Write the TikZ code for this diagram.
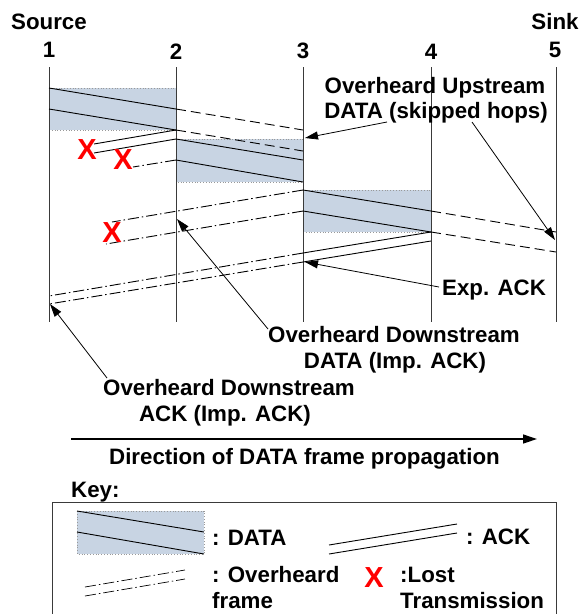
\documentclass[tikz,border=0pt]{standalone}
\usepackage{fontspec}
\setmainfont{Liberation Sans}
\usetikzlibrary{arrows.meta}
\definecolor{boxblue}{HTML}{C8D4E3}
\definecolor{nodeline}{HTML}{3A3A3A}
\begin{document}
\begin{tikzpicture}[x=1pt,y=-1pt,
  every node/.style={inner sep=0pt, font=\fontsize{22.3}{27}\selectfont\bfseries},
  lbl/.style={anchor=base},
  lblw/.style={anchor=base west},
  hop/.style={draw=nodeline, line width=1pt},
  databox/.style={fill=boxblue, draw=gray!80, dotted, line width=0.8pt},
  pkt/.style={draw=black, line width=0.9pt},
  fwd/.style={pkt, dash pattern=on 10pt off 5pt},
  ovh/.style={pkt, dash pattern=on 11pt off 3pt on 1.5pt off 3pt},
  callout/.style={draw=black, line width=0.8pt, -{Triangle[length=13pt,width=8pt]}},
  lost/.style={text=red, font=\fontsize{29}{30}\selectfont\bfseries}
]
\useasboundingbox (0,0) rectangle (581,614);

% ---------- DATA transmission slots ----------
\path[databox] (49,88) rectangle (176,130);
\path[databox] (176,139) rectangle (303,182);
\path[databox] (303,190) rectangle (431,232);

% ---------- node time lines ----------
\foreach \i/\x in {1/49,2/176,3/303,4/431,5/556} {
  \coordinate (t\i) at (\x,67);
  \coordinate (b\i) at (\x,322);
  \draw[hop] (t\i) -- (b\i);
}
\node[lbl] (src) at (49,29) {Source};
\node[lbl] (snk) at (555,29) {Sink};
\node[lbl] (n1) at (49,57) {1};
\node[lbl] (n2) at (176,59) {2};
\node[lbl] (n3) at (303,58) {3};
\node[lbl] (n4) at (431,59) {4};
\node[lbl] (n5) at (555,57) {5};

% ---------- hop 1 -> 2 ----------
\coordinate (a1) at (49,88);   \coordinate (a2) at (176,109);  \coordinate (a3) at (303,130);
\coordinate (c1) at (49,109);  \coordinate (c2) at (176,130);  \coordinate (c3) at (303,151);
\draw[pkt] (a1) -- (a2);
\draw[pkt] (c1) -- (c2);
\draw[fwd] (a2) -- (a3);
\draw[fwd] (c2) -- (c3);
% ACK 2 -> 1, lost
\coordinate (k1) at (176,130); \coordinate (k1e) at (94,144);
\coordinate (k2) at (176,139); \coordinate (k2e) at (94,153);
\draw[pkt] (k1) -- (k1e);
\draw[pkt] (k2) -- (k2e);
\node[lost] (x1) at (87,150) {X};

% ---------- hop 2 -> 3 ----------
\coordinate (d1) at (176,139); \coordinate (d2) at (303,160);
\coordinate (e1) at (176,160); \coordinate (e2) at (303,182);
\draw[pkt] (d1) -- (d2);
\draw[pkt] (e1) -- (e2);
\coordinate (e0) at (133,167);
\draw[ovh] (e1) -- (e0);
\node[lost] (x2) at (123,160) {X};

% ---------- hop 3 -> 4 ----------
\coordinate (f1) at (303,190); \coordinate (f2) at (431,211); \coordinate (f3) at (556,232);
\coordinate (g1) at (303,211); \coordinate (g2) at (431,232); \coordinate (g3) at (556,252);
\draw[pkt] (f1) -- (f2);
\draw[pkt] (g1) -- (g2);
\draw[fwd] (f2) -- (f3);
\draw[fwd] (g2) -- (g3);
% DATA of 3 overheard upstream
\coordinate (f0) at (112,222);
\coordinate (g0) at (106,244);
\draw[ovh] (f1) -- (f0);
\draw[ovh] (g1) -- (g0);
\node[lost] (x3) at (112,233) {X};

% ---------- ACK 4 -> 3 ----------
\coordinate (h1) at (431,232); \coordinate (h2) at (303,253); \coordinate (h3) at (49,296);
\coordinate (i1) at (431,241); \coordinate (i2) at (303,262); \coordinate (i3) at (49,304);
\draw[pkt] (h1) -- (h2);
\draw[pkt] (i1) -- (i2);
\draw[ovh] (h2) -- (h3);
\draw[ovh] (i2) -- (i3);

% ---------- callouts ----------
\node[lbl] (up1) at (435,93) {Overheard Upstream};
\node[lbl] (up2) at (436,118) {DATA (skipped hops)};
\coordinate (upA) at (387,122);
\coordinate (upB) at (472,122);
\coordinate (upT1) at (305,138);
\coordinate (upT2) at (555,240);
\draw[callout] (upA) -- (upT1);
\draw[callout] (upB) -- (upT2);

\node[lblw] (exp) at (442,295) {Exp. ACK};
\coordinate (expS) at (439,287);
\coordinate (expT) at (305,262);
\draw[callout] (expS) -- (expT);

\node[lbl] (dd1) at (394,342) {Overheard Downstream};
\node[lbl] (dd2) at (395,368) {DATA (Imp. ACK)};
\coordinate (ddS) at (268,329);
\coordinate (ddT) at (177,219);
\draw[callout] (ddS) -- (ddT);

\node[lbl] (da1) at (229,395) {Overheard Downstream};
\node[lbl] (da2) at (225,421) {ACK (Imp. ACK)};
\coordinate (daS) at (107,378);
\coordinate (daT) at (50,304);
\draw[callout] (daS) -- (daT);

% ---------- propagation direction ----------
\coordinate (dirS) at (71,439);
\coordinate (dirE) at (537,439);
\draw[line width=1.3pt, -{Triangle[length=14pt,width=9pt]}] (dirS) -- (dirE);
\node[lbl] (dirL) at (304.5,464) {Direction of DATA frame propagation};

% ---------- key ----------
\node[lblw] (key) at (71,497) {Key:};
\draw[draw=nodeline, line width=1pt] (52,620) -- (52,502) -- (556,502) -- (556,620);

\path[databox] (77,511) rectangle (204,554);
\coordinate (ka1) at (77,511);  \coordinate (ka2) at (204,532);
\coordinate (kb1) at (77,532);  \coordinate (kb2) at (204,554);
\draw[pkt] (ka1) -- (ka2);
\draw[pkt] (kb1) -- (kb2);
\node[lblw] (kdata) at (212,545) {: DATA};

\coordinate (kc1) at (329,545); \coordinate (kc2) at (457,524);
\coordinate (kd1) at (329,554); \coordinate (kd2) at (457,533);
\draw[pkt] (kc1) -- (kc2);
\draw[pkt] (kd1) -- (kd2);
\node[lblw] (kack) at (466,544) {: ACK};

\coordinate (ke1) at (85,587); \coordinate (ke2) at (185,570);
\coordinate (kf1) at (85,596); \coordinate (kf2) at (185,579);
\draw[ovh, line width=0.7pt] (ke1) -- (ke2);
\draw[ovh, line width=0.7pt] (kf1) -- (kf2);
\node[lblw] (kov1) at (212,582) {: Overheard};
\node[lblw] (kov2) at (212,608) {frame};

\node[lost] (kx) at (374,578) {X};
\node[lblw] (klost1) at (400,582) {:Lost};
\node[lblw] (klost2) at (400,608) {Transmission};
\end{tikzpicture}
\end{document}
